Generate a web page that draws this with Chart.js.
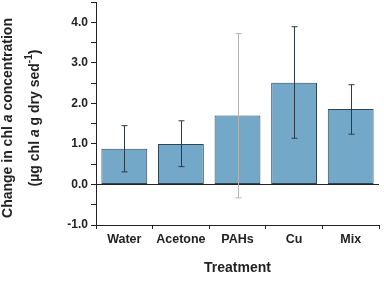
<!DOCTYPE html>
<html>
<head>
<meta charset="utf-8">
<script src="https://cdn.jsdelivr.net/npm/chart.js@4"></script>
<style>
  html, body { margin: 0; padding: 0; background: #fff; }
  #wrap { width: 384px; height: 281px; }
</style>
</head>
<body>
<div id="wrap"><canvas id="chlChart"></canvas></div>
<script>
const treatments = ['Water', 'Acetone', 'PAHs', 'Cu', 'Mix'];
const chlChange = [0.88, 1.0, 1.70, 2.51, 1.86];
const errLow = [0.31, 0.44, -0.33, 1.14, 1.24];
const errHigh = [1.45, 1.57, 3.72, 3.89, 2.46];
const errColors = ['#2b3a48', '#2b3a48', '#b4b4b4', '#2b3a48', '#2b3a48'];

const FONT = 'Liberation Sans, Arial, sans-serif';

// error bars drawn through the chart's own scales
const errorBars = {
    id: 'errorBars',
    afterDatasetsDraw(chart) {
        const c = chart.ctx;
        const y = chart.scales.y;
        const meta = chart.getDatasetMeta(0);
        c.save();
        c.lineWidth = 1;
        meta.data.forEach((bar, i) => {
            const x = Math.round(bar.x) + 0.5;
            const top = y.getPixelForValue(errHigh[i]);
            const bot = y.getPixelForValue(errLow[i]);
            c.strokeStyle = errColors[i];
            c.beginPath();
            c.moveTo(x, top); c.lineTo(x, bot);
            c.moveTo(x - 3, top); c.lineTo(x + 3, top);
            c.moveTo(x - 3, bot); c.lineTo(x + 3, bot);
            c.stroke();
        });
        c.restore();
    }
};

// y title with italic "a" and superscript -1
const yTitle = {
    id: 'yTitle',
    afterDraw(chart) {
        const c = chart.ctx;
        const cy = 118;
        const bold = '700 14px ' + FONT;
        const ital = 'italic 700 14px ' + FONT;
        const sup = '700 10px ' + FONT;
        const lines = [
            { x: 8.5, parts: [['Change in chl ', bold, 0], ['a', ital, 0], [' concentration', bold, 0]] },
            { x: 35.5, parts: [['(\u00b5g chl ', bold, 0], ['a', ital, 0], [' g dry sed', bold, 0], ['-1', sup, -6], [')', bold, 0]] }
        ];
        c.save();
        c.fillStyle = '#222';
        c.textBaseline = 'middle';
        c.textAlign = 'left';
        lines.forEach(line => {
            let total = 0;
            line.parts.forEach(p => { c.font = p[1]; total += c.measureText(p[0]).width; });
            c.save();
            c.translate(line.x, cy);
            c.rotate(-Math.PI / 2);
            let pos = -total / 2;
            line.parts.forEach(p => {
                c.font = p[1];
                c.fillText(p[0], pos, p[2]);
                pos += c.measureText(p[0]).width;
            });
            c.restore();
        });
        c.restore();
    }
};

new Chart(document.getElementById('chlChart'), {
    type: 'bar',
    data: {
        labels: treatments,
        datasets: [{
            data: chlChange,
            backgroundColor: '#74a8c9',
            borderColor: '#2e4656',
            borderWidth: 1,
            borderSkipped: false,
            categoryPercentage: 1,
            barPercentage: 0.81
        }]
    },
    options: {
        responsive: true,
        maintainAspectRatio: false,
        animation: false,
        layout: { padding: { top: 2, right: 5, left: 0, bottom: 0 } },
        plugins: { legend: { display: false }, tooltip: { enabled: false } },
        scales: {
            x: {
                grid: { display: true, drawOnChartArea: false, offset: true, tickLength: 4, color: '#222' },
                border: { color: '#222', width: 1 },
                ticks: { color: '#222', padding: 3, font: { family: FONT, size: 12.5, weight: 'bold' } },
                title: { display: true, text: 'Treatment', color: '#222', padding: { top: 0, bottom: 4 }, font: { family: FONT, size: 14, weight: 'bold' } },
                afterFit: s => { s.height = 56; s.paddingLeft = 0; s.paddingRight = 0; }
            },
            y: {
                min: -1,
                max: 4.5,
                afterBuildTicks: s => {
                    const t = [];
                    for (let v = -1; v <= 4.5; v += 0.5) t.push({ value: v });
                    s.ticks = t;
                },
                grid: {
                    drawOnChartArea: true,
                    tickLength: 5,
                    color: ctx => (ctx.tick && ctx.tick.value === 0) ? '#222' : 'rgba(0,0,0,0)',
                    tickColor: '#222'
                },
                border: { color: '#222', width: 1 },
                ticks: {
                    color: '#222',
                    padding: 3,
                    autoSkip: false,
                    font: { family: FONT, size: 12, weight: 'bold' },
                    callback: v => Number.isInteger(v) ? v.toFixed(1) : ''
                },
                afterFit: s => { s.width = 96; s.paddingTop = 0; s.paddingBottom = 0; }
            }
        }
    },
    plugins: [errorBars, yTitle]
});
</script>
</body>
</html>
